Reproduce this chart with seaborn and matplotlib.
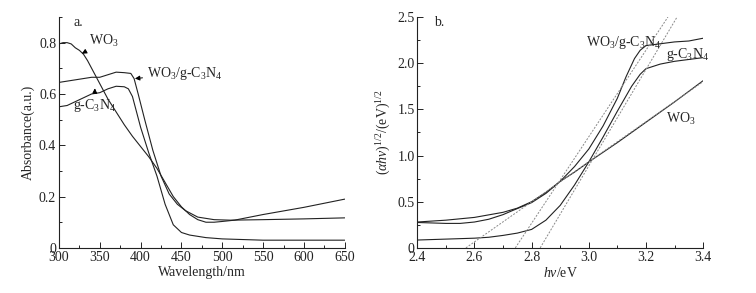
import numpy as np
import pandas as pd
import seaborn as sns
import matplotlib.pyplot as plt
from matplotlib.ticker import MultipleLocator

# panel a: UV-vis absorbance
wl_wo3 = [300, 305, 310, 315, 320, 325, 330, 335, 340, 345, 350, 355, 360, 370, 380, 390,
          400, 410, 420, 430, 440, 450, 460, 470, 480, 490, 500, 515, 550, 600, 650]
abs_wo3 = [0.795, 0.80, 0.80, 0.795, 0.78, 0.77, 0.755, 0.73, 0.70, 0.67, 0.64, 0.61, 0.58,
           0.53, 0.48, 0.435, 0.395, 0.355, 0.31, 0.255, 0.20, 0.16, 0.13, 0.11, 0.10, 0.10,
           0.103, 0.108, 0.13, 0.158, 0.19]
wl_comp = [300, 310, 320, 330, 340, 350, 360, 370, 380, 388, 392, 397, 405, 415, 425, 435,
           445, 455, 470, 490, 510, 550, 600, 650]
abs_comp = [0.645, 0.65, 0.655, 0.66, 0.665, 0.665, 0.675, 0.685, 0.683, 0.68, 0.66, 0.60,
            0.50, 0.38, 0.28, 0.21, 0.17, 0.145, 0.12, 0.11, 0.108, 0.11, 0.113, 0.117]
wl_cn = [300, 310, 320, 330, 340, 350, 360, 370, 380, 385, 390, 395, 400, 410, 420, 430,
         440, 450, 460, 480, 500, 550, 650]
abs_cn = [0.55, 0.555, 0.57, 0.585, 0.60, 0.605, 0.62, 0.63, 0.628, 0.62, 0.59, 0.53, 0.47,
          0.37, 0.28, 0.17, 0.09, 0.06, 0.05, 0.04, 0.035, 0.03, 0.03]

# panel b: Tauc plot
ev_wo3 = [2.4, 2.5, 2.6, 2.7, 2.75, 2.8, 2.85, 2.9, 2.95, 3.0, 3.1, 3.2, 3.3, 3.4]
tauc_wo3 = [0.28, 0.30, 0.33, 0.385, 0.43, 0.50, 0.60, 0.72, 0.82, 0.93, 1.14, 1.36, 1.58, 1.81]
ev_comp = [2.4, 2.45, 2.5, 2.55, 2.6, 2.65, 2.7, 2.73, 2.8, 2.85, 2.9, 2.95, 3.0, 3.05, 3.1,
           3.13, 3.16, 3.18, 3.2, 3.25, 3.3, 3.35, 3.4]
tauc_comp = [0.275, 0.27, 0.265, 0.265, 0.28, 0.31, 0.36, 0.40, 0.49, 0.59, 0.72, 0.88, 1.07,
             1.32, 1.62, 1.85, 2.05, 2.14, 2.19, 2.21, 2.23, 2.24, 2.27]
ev_cn = [2.4, 2.5, 2.6, 2.65, 2.7, 2.75, 2.8, 2.85, 2.9, 2.95, 3.0, 3.05, 3.1, 3.15, 3.18,
         3.2, 3.25, 3.3, 3.4]
tauc_cn = [0.085, 0.095, 0.105, 0.115, 0.135, 0.16, 0.20, 0.30, 0.46, 0.68, 0.93, 1.20, 1.48,
           1.75, 1.88, 1.94, 1.99, 2.02, 2.06]

# tangent lines (start, end)
tan_wo3_x = [2.57, 3.4]
tan_wo3_y = [0.0, 1.80]
tan_comp_x = [2.743, 3.277]
tan_comp_y = [0.0, 2.5]
tan_cn_x = [2.83, 3.309]
tan_cn_y = [0.0, 2.5]

sns.set_style("ticks")
plt.rcParams["font.family"] = ["Liberation Serif", "DejaVu Serif"]
plt.rcParams["mathtext.fontset"] = "custom"
plt.rcParams["mathtext.rm"] = "Liberation Serif"
plt.rcParams["mathtext.it"] = "Liberation Serif:italic"
plt.rcParams["font.size"] = 10

fig = plt.figure(figsize=(7.56, 2.93), dpi=100)
ax1 = fig.add_axes([0.078, 0.154, 0.378, 0.788])
ax2 = fig.add_axes([0.552, 0.154, 0.378, 0.788])

lw = 0.8
for x, y in [(wl_wo3, abs_wo3), (wl_comp, abs_comp), (wl_cn, abs_cn)]:
    sns.lineplot(x=x, y=y, ax=ax1, color="#222222", linewidth=lw, sort=False)

for x, y in [(ev_wo3, tauc_wo3), (ev_comp, tauc_comp), (ev_cn, tauc_cn)]:
    sns.lineplot(x=x, y=y, ax=ax2, color="#222222", linewidth=lw, sort=False)
for x, y in [(tan_wo3_x, tan_wo3_y), (tan_comp_x, tan_comp_y), (tan_cn_x, tan_cn_y)]:
    sns.lineplot(x=x, y=y, ax=ax2, color="#888888", linewidth=0.7, linestyle=(0, (2, 1.5)))

arrow = dict(arrowstyle="-|>", color="black", lw=0.7, mutation_scale=7, shrinkA=1, shrinkB=0)
ax1.annotate("WO$_3$", xy=(328, 0.757), xytext=(337, 0.79), fontsize=10, arrowprops=arrow)
ax1.annotate("WO$_3$/g-C$_3$N$_4$", xy=(393, 0.66), xytext=(408, 0.665), fontsize=10,
             arrowprops=arrow)
ax1.annotate("g-C$_3$N$_4$", xy=(344, 0.622), xytext=(317, 0.54), fontsize=10,
             arrowprops=arrow)
ax1.text(318, 0.865, "a.", fontsize=10)

ax2.text(2.99, 2.19, "WO$_3$/g-C$_3$N$_4$", fontsize=10)
ax2.text(3.27, 2.06, "g-C$_3$N$_4$", fontsize=10)
ax2.text(3.27, 1.35, "WO$_3$", fontsize=10)
ax2.text(2.46, 2.4, "b.", fontsize=10)

ax1.set_xlim(300, 650)
ax1.set_ylim(0, 0.9)
ax1.xaxis.set_major_locator(MultipleLocator(50))
ax1.xaxis.set_minor_locator(MultipleLocator(25))
ax1.set_yticks([0, 0.2, 0.4, 0.6, 0.8])
ax1.set_yticklabels(["0", "0.2", "0.4", "0.6", "0.8"])
ax1.yaxis.set_minor_locator(MultipleLocator(0.1))
ax1.set_xlabel("Wavelength/nm", labelpad=2)
ax1.set_ylabel("Absorbance(a.u.)", labelpad=3)

ax2.set_xlim(2.4, 3.4)
ax2.set_ylim(0, 2.5)
ax2.set_xticks([2.4, 2.6, 2.8, 3.0, 3.2, 3.4])
ax2.xaxis.set_minor_locator(MultipleLocator(0.1))
ax2.set_yticks([0, 0.5, 1.0, 1.5, 2.0, 2.5])
ax2.set_yticklabels(["0", "0.5", "1.0", "1.5", "2.0", "2.5"])
ax2.yaxis.set_minor_locator(MultipleLocator(0.25))
ax2.set_xlabel(r"$hv$/eV", labelpad=2)
ax2.set_ylabel(r"$(\alpha hv)^{1/2}$/(eV)$^{1/2}$", labelpad=3)

for ax in (ax1, ax2):
    sns.despine(ax=ax)
    for s in ("left", "bottom"):
        ax.spines[s].set_linewidth(0.8)
        ax.spines[s].set_color("#222222")
    ax.tick_params(which="both", direction="in", width=0.7, colors="#222222",
                   labelcolor="#222222", labelsize=10, pad=2)
    ax.tick_params(which="major", length=4)
    ax.tick_params(which="minor", length=2.5)

fig.savefig("out.png", dpi=100)
